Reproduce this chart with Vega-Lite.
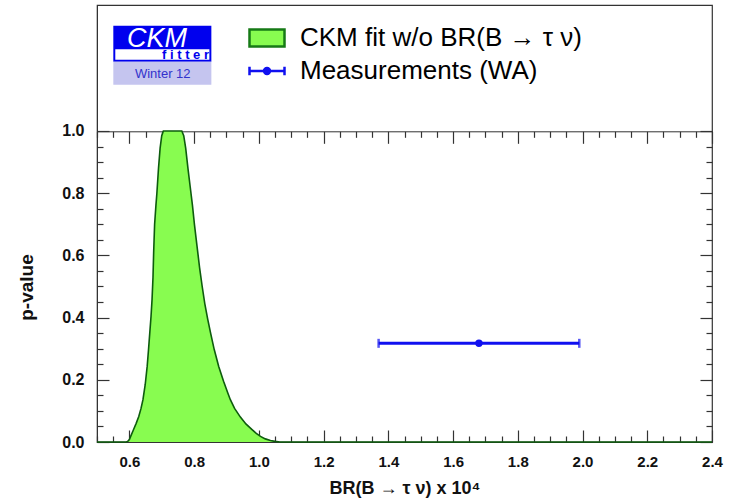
{
  "$schema": "https://vega.github.io/schema/vega-lite/v6.json",
  "width": 615,
  "height": 437,
  "autosize": {"type": "none"},
  "padding": {"left": 97, "top": 5, "right": 20, "bottom": 56},
  "background": "white",
  "config": {
    "font": "Liberation Sans",
    "view": {"stroke": "#333333", "strokeWidth": 1.2},
    "axis": {"grid": false, "labelOverlap": false, "labelBound": false, "labelFlush": false, "domainColor": "#333333", "tickColor": "#333333", "tickWidth": 1.2, "labelFont": "Liberation Sans", "titleFont": "Liberation Sans"}
  },
  "datasets": {
    "curve": [
      {"series": "CKM fit w/o BR(B → τ ν)", "x": 0.5, "p": 0},
      {"series": "CKM fit w/o BR(B → τ ν)", "x": 0.59, "p": 0},
      {"series": "CKM fit w/o BR(B → τ ν)", "x": 0.595, "p": 0.002},
      {"series": "CKM fit w/o BR(B → τ ν)", "x": 0.6, "p": 0.008},
      {"series": "CKM fit w/o BR(B → τ ν)", "x": 0.604, "p": 0.018},
      {"series": "CKM fit w/o BR(B → τ ν)", "x": 0.613, "p": 0.04},
      {"series": "CKM fit w/o BR(B → τ ν)", "x": 0.621, "p": 0.06},
      {"series": "CKM fit w/o BR(B → τ ν)", "x": 0.629, "p": 0.082},
      {"series": "CKM fit w/o BR(B → τ ν)", "x": 0.636, "p": 0.108},
      {"series": "CKM fit w/o BR(B → τ ν)", "x": 0.642, "p": 0.136},
      {"series": "CKM fit w/o BR(B → τ ν)", "x": 0.649, "p": 0.185},
      {"series": "CKM fit w/o BR(B → τ ν)", "x": 0.655, "p": 0.243},
      {"series": "CKM fit w/o BR(B → τ ν)", "x": 0.659, "p": 0.295},
      {"series": "CKM fit w/o BR(B → τ ν)", "x": 0.663, "p": 0.35},
      {"series": "CKM fit w/o BR(B → τ ν)", "x": 0.667, "p": 0.405},
      {"series": "CKM fit w/o BR(B → τ ν)", "x": 0.67, "p": 0.457},
      {"series": "CKM fit w/o BR(B → τ ν)", "x": 0.673, "p": 0.53},
      {"series": "CKM fit w/o BR(B → τ ν)", "x": 0.675, "p": 0.608},
      {"series": "CKM fit w/o BR(B → τ ν)", "x": 0.678, "p": 0.7},
      {"series": "CKM fit w/o BR(B → τ ν)", "x": 0.682, "p": 0.76},
      {"series": "CKM fit w/o BR(B → τ ν)", "x": 0.685, "p": 0.8},
      {"series": "CKM fit w/o BR(B → τ ν)", "x": 0.69, "p": 0.88},
      {"series": "CKM fit w/o BR(B → τ ν)", "x": 0.695, "p": 0.945},
      {"series": "CKM fit w/o BR(B → τ ν)", "x": 0.7, "p": 0.985},
      {"series": "CKM fit w/o BR(B → τ ν)", "x": 0.705, "p": 1.0},
      {"series": "CKM fit w/o BR(B → τ ν)", "x": 0.762, "p": 1.0},
      {"series": "CKM fit w/o BR(B → τ ν)", "x": 0.768, "p": 0.985},
      {"series": "CKM fit w/o BR(B → τ ν)", "x": 0.774, "p": 0.945},
      {"series": "CKM fit w/o BR(B → τ ν)", "x": 0.781, "p": 0.88},
      {"series": "CKM fit w/o BR(B → τ ν)", "x": 0.788, "p": 0.82},
      {"series": "CKM fit w/o BR(B → τ ν)", "x": 0.795, "p": 0.76},
      {"series": "CKM fit w/o BR(B → τ ν)", "x": 0.801, "p": 0.7},
      {"series": "CKM fit w/o BR(B → τ ν)", "x": 0.809, "p": 0.63},
      {"series": "CKM fit w/o BR(B → τ ν)", "x": 0.817, "p": 0.56},
      {"series": "CKM fit w/o BR(B → τ ν)", "x": 0.825, "p": 0.5},
      {"series": "CKM fit w/o BR(B → τ ν)", "x": 0.833, "p": 0.445},
      {"series": "CKM fit w/o BR(B → τ ν)", "x": 0.842, "p": 0.395},
      {"series": "CKM fit w/o BR(B → τ ν)", "x": 0.851, "p": 0.35},
      {"series": "CKM fit w/o BR(B → τ ν)", "x": 0.862, "p": 0.298},
      {"series": "CKM fit w/o BR(B → τ ν)", "x": 0.876, "p": 0.243},
      {"series": "CKM fit w/o BR(B → τ ν)", "x": 0.891, "p": 0.195},
      {"series": "CKM fit w/o BR(B → τ ν)", "x": 0.905, "p": 0.155},
      {"series": "CKM fit w/o BR(B → τ ν)", "x": 0.912, "p": 0.136},
      {"series": "CKM fit w/o BR(B → τ ν)", "x": 0.925, "p": 0.108},
      {"series": "CKM fit w/o BR(B → τ ν)", "x": 0.943, "p": 0.08},
      {"series": "CKM fit w/o BR(B → τ ν)", "x": 0.96, "p": 0.058},
      {"series": "CKM fit w/o BR(B → τ ν)", "x": 0.979, "p": 0.04},
      {"series": "CKM fit w/o BR(B → τ ν)", "x": 0.992, "p": 0.028},
      {"series": "CKM fit w/o BR(B → τ ν)", "x": 1.005, "p": 0.018},
      {"series": "CKM fit w/o BR(B → τ ν)", "x": 1.02, "p": 0.01},
      {"series": "CKM fit w/o BR(B → τ ν)", "x": 1.036, "p": 0.005},
      {"series": "CKM fit w/o BR(B → τ ν)", "x": 1.05, "p": 0.002},
      {"series": "CKM fit w/o BR(B → τ ν)", "x": 1.065, "p": 0},
      {"series": "CKM fit w/o BR(B → τ ν)", "x": 2.4, "p": 0}
    ],
    "meas": [
      {"series": "Measurements (WA)", "x": 1.68, "xlo": 1.37, "xhi": 1.99, "p": 0.3173}
    ]
  },
  "resolve": {"axis": {"x": "independent", "y": "independent"}},
  "layer": [
    {
      "data": {"name": "curve"},
      "mark": {"type": "area", "opacity": 1},
      "encoding": {
        "x": {
          "field": "x", "type": "quantitative",
          "scale": {"domain": [0.5, 2.4], "nice": false, "zero": false},
          "axis": {
            "orient": "bottom",
            "values": [0.5,0.55,0.6,0.65,0.7,0.75,0.8,0.85,0.9,0.95,1.0,1.05,1.1,1.15,1.2,1.25,1.3,1.35,1.4,1.45,1.5,1.55,1.6,1.65,1.7,1.75,1.8,1.85,1.9,1.95,2.0,2.05,2.1,2.15,2.2,2.25,2.3,2.35,2.4],
            "labelExpr": "abs(datum.value*5-round(datum.value*5))<0.001 ? format(datum.value, '.1f') : ''",
            "tickSize": {"condition": {"test": "abs(datum.value*5-round(datum.value*5))<0.001", "value": -12}, "value": -6},
            "labelPadding": 24,
            "labelFontSize": 15,
            "labelFontWeight": "bold",
            "labelColor": "#111111",
            "title": "BR(B → τ ν) x 10⁴",
            "titleFontSize": 18,
            "titleFontWeight": "bold",
            "titleColor": "#111111",
            "titlePadding": 4
          }
        },
        "y": {
          "field": "p", "type": "quantitative",
          "scale": {"domain": [0, 1.4051], "nice": false, "zero": false},
          "axis": {
            "orient": "left",
            "values": [0,0.05,0.1,0.15,0.2,0.25,0.3,0.35,0.4,0.45,0.5,0.55,0.6,0.65,0.7,0.75,0.8,0.85,0.9,0.95,1.0],
            "labelExpr": "abs(datum.value*5-round(datum.value*5))<0.001 ? format(datum.value, '.1f') : ''",
            "tickSize": {"condition": {"test": "abs(datum.value*5-round(datum.value*5))<0.001", "value": -12}, "value": -6},
            "labelPadding": 25,
            "labelFontSize": 16,
            "labelFontWeight": "bold",
            "labelColor": "#111111",
            "title": "p-value",
            "titleFontSize": 19,
            "titleFontWeight": "bold",
            "titleColor": "#111111",
            "titleX": -61,
            "titleY": 282,
            "titleAnchor": "middle"
          }
        },
        "color": {
          "field": "series", "type": "nominal",
          "scale": {"domain": ["CKM fit w/o BR(B → τ ν)", "Measurements (WA)"], "range": ["#88fc50", "#1010f0"]},
          "legend": {
            "orient": "none",
            "legendX": 151,
            "legendY": 14,
            "title": null,
            "padding": 0,
            "labelFont": "Liberation Sans",
            "labelFontSize": 26,
            "labelLimit": 500,
            "labelOffset": 14,
            "symbolSize": 1225,
            "rowPadding": -4.5,
            "symbolStrokeWidth": 2.5,
            "symbolOpacity": 1,
            "symbolType": {"expr": "datum.value === 'Measurements (WA)' ? 'M-1,0H1M-1,-0.24V0.24M1,-0.24V0.24M-0.17,0A0.17,0.17,0,1,1,0.17,0A0.17,0.17,0,1,1,-0.17,0Z' : 'M-1,-0.49H1V0.49H-1Z'"},
            "symbolStrokeColor": {"expr": "datum.value === 'Measurements (WA)' ? '#1010f0' : '#167a16'"},
            "encode": {
              "labels": {
                "fill": {"value": {"expr": "datum.value === 'Measurements (WA)' ? '#1010f0' : '#1d7a1d'"}}
              }
            }
          }
        }
      }
    },
    {
      "data": {"name": "curve"},
      "mark": {"type": "line", "color": "#0d5c0d", "strokeWidth": 1.6},
      "encoding": {
        "x": {"field": "x", "type": "quantitative", "axis": null},
        "y": {"field": "p", "type": "quantitative", "axis": null}
      }
    },
    {
      "data": {"name": "meas"},
      "mark": {"type": "rule", "color": "#1010f0", "strokeWidth": 3},
      "encoding": {
        "x": {"field": "xlo", "type": "quantitative", "axis": null},
        "x2": {"field": "xhi"},
        "y": {"field": "p", "type": "quantitative", "axis": null}
      }
    },
    {
      "data": {"name": "meas"},
      "transform": [{"fold": ["xlo", "xhi"], "as": ["end", "xe"]}],
      "mark": {"type": "tick", "orient": "vertical", "color": "#1010f0", "size": 9, "thickness": 2.5},
      "encoding": {
        "x": {"field": "xe", "type": "quantitative", "axis": null},
        "y": {"field": "p", "type": "quantitative", "axis": null}
      }
    },
    {
      "data": {"name": "meas"},
      "mark": {"type": "point", "shape": "circle", "filled": true, "color": "#1010f0", "size": 55, "opacity": 1},
      "encoding": {
        "x": {"field": "x", "type": "quantitative", "axis": null},
        "y": {"field": "p", "type": "quantitative", "axis": null}
      }
    },
    {
      "data": {"name": "meas"},
      "mark": {"type": "point", "opacity": 0},
      "encoding": {
        "x": {
          "field": "x", "type": "quantitative",
          "axis": {
            "orient": "top",
            "offset": -126.3,
            "values": [0.5,0.55,0.6,0.65,0.7,0.75,0.8,0.85,0.9,0.95,1.0,1.05,1.1,1.15,1.2,1.25,1.3,1.35,1.4,1.45,1.5,1.55,1.6,1.65,1.7,1.75,1.8,1.85,1.9,1.95,2.0,2.05,2.1,2.15,2.2,2.25,2.3,2.35,2.4],
            "labels": false,
            "title": null,
            "tickSize": {"condition": {"test": "abs(datum.value*5-round(datum.value*5))<0.001", "value": -12}, "value": -6},
            "domain": true
          }
        },
        "y": {
          "field": "p", "type": "quantitative",
          "axis": {
            "orient": "right",
            "values": [0,0.05,0.1,0.15,0.2,0.25,0.3,0.35,0.4,0.45,0.5,0.55,0.6,0.65,0.7,0.75,0.8,0.85,0.9,0.95,1.0],
            "labels": false,
            "title": null,
            "tickSize": {"condition": {"test": "abs(datum.value*5-round(datum.value*5))<0.001", "value": -12}, "value": -6},
            "domain": false
          }
        }
      }
    },
    {
      "data": {"values": [{}]},
      "mark": {"type": "rect", "color": "#0000ee"},
      "encoding": {
        "x": {"datum": 0.5504, "type": "quantitative", "axis": null},
        "x2": {"datum": 0.8533},
        "y": {"datum": 1.3386, "type": "quantitative", "axis": null},
        "y2": {"datum": 1.2225}
      }
    },
    {
      "data": {"values": [{}]},
      "mark": {"type": "rect", "color": "#ffffff"},
      "encoding": {
        "x": {"datum": 0.5565, "type": "quantitative", "axis": null},
        "x2": {"datum": 0.8472},
        "y": {"datum": 1.263, "type": "quantitative", "axis": null},
        "y2": {"datum": 1.2293}
      }
    },
    {
      "data": {"values": [{}]},
      "mark": {"type": "rect", "color": "#c5c5ef"},
      "encoding": {
        "x": {"datum": 0.5504, "type": "quantitative", "axis": null},
        "x2": {"datum": 0.8533},
        "y": {"datum": 1.2225, "type": "quantitative", "axis": null},
        "y2": {"datum": 1.1485}
      }
    },
    {
      "data": {"values": [{"t": "CKM"}]},
      "mark": {"type": "text", "color": "#ffffff", "fontSize": 27, "fontStyle": "italic", "font": "Liberation Sans", "align": "center", "baseline": "alphabetic"},
      "encoding": {
        "x": {"datum": 0.685, "type": "quantitative", "axis": null},
        "y": {"datum": 1.2705, "type": "quantitative", "axis": null},
        "text": {"field": "t"}
      }
    },
    {
      "data": {"values": [{"t": "f i t t e r"}]},
      "mark": {"type": "text", "color": "#0000ee", "fontSize": 13, "fontWeight": "bold", "font": "Liberation Sans", "align": "right", "baseline": "alphabetic"},
      "encoding": {
        "x": {"datum": 0.846, "type": "quantitative", "axis": null},
        "y": {"datum": 1.2325, "type": "quantitative", "axis": null},
        "text": {"field": "t"}
      }
    },
    {
      "data": {"values": [{"t": "Winter 12"}]},
      "mark": {"type": "text", "color": "#3333cc", "fontSize": 13, "font": "Liberation Sans", "align": "center", "baseline": "alphabetic"},
      "encoding": {
        "x": {"datum": 0.703, "type": "quantitative", "axis": null},
        "y": {"datum": 1.1714, "type": "quantitative", "axis": null},
        "text": {"field": "t"}
      }
    }
  ]
}
